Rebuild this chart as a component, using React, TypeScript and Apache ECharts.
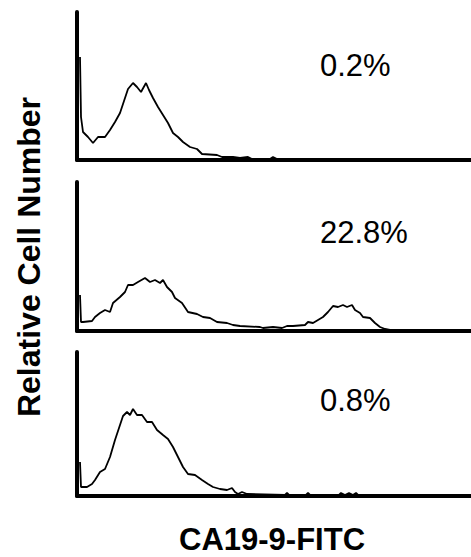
import React, { useEffect, useRef } from "react";
import * as echarts from "echarts";

// Histogram data (channel, relative cell count)
const panel1Channels = [3, 4, 6, 11, 16, 21, 28, 33, 38, 43, 48, 51, 56, 60, 64, 69, 72, 76, 81, 86, 91, 96, 101, 106, 113, 120, 125, 140, 145, 156, 163, 171, 175, 193, 196, 200, 394];
const panel1Counts = [103, 43, 28, 23, 17, 23, 23, 30, 38, 47, 62, 71, 77, 73, 68, 77, 70, 62, 53, 45, 37, 27, 23, 18, 13, 11, 6, 5, 3, 3, 2, 3, 1, 1, 3, 1, 1];

const panel2Channels = [3, 4, 6, 15, 18, 23, 28, 33, 36, 43, 48, 51, 56, 61, 68, 73, 78, 83, 86, 90, 95, 98, 105, 111, 120, 126, 133, 140, 150, 156, 163, 183, 186, 196, 205, 210, 216, 228, 231, 236, 241, 246, 251, 256, 261, 266, 270, 275, 278, 283, 286, 293, 298, 303, 308, 313, 394];
const panel2Counts = [36, 9, 9, 10, 14, 18, 21, 19, 28, 34, 39, 46, 46, 49, 53, 49, 51, 48, 51, 44, 39, 33, 28, 19, 17, 14, 13, 9, 8, 6, 5, 4, 3, 4, 3, 5, 5, 6, 9, 8, 11, 14, 19, 25, 24, 26, 24, 26, 21, 18, 14, 13, 8, 4, 2, 1, 0];

const panel3Channels = [3, 4, 10, 15, 18, 23, 28, 33, 38, 43, 46, 50, 53, 56, 60, 65, 70, 75, 80, 86, 91, 96, 101, 106, 111, 118, 125, 131, 136, 143, 150, 155, 158, 161, 165, 170, 208, 210, 212, 229, 231, 233, 262, 264, 268, 272, 276, 279, 281, 394];
const panel3Counts = [34, 9, 9, 12, 16, 24, 27, 39, 56, 71, 80, 84, 81, 87, 81, 81, 74, 74, 66, 61, 57, 49, 39, 29, 22, 21, 16, 12, 9, 7, 6, 8, 4, 2, 4, 2, 1, 3, 1, 1, 3, 1, 1, 3, 1, 3, 1, 3, 1, 1];

const percentLabels = ["0.2%", "22.8%", "0.8%"];
const xAxisTitle = "CA19-9-FITC";
const yAxisTitle = "Relative Cell Number";

const FONT = '"Liberation Sans", Arial, Helvetica, sans-serif';

export default function App() {
  const ref = useRef<HTMLDivElement>(null);

  useEffect(() => {
    if (!ref.current) return;
    const chart = echarts.init(ref.current, undefined, { renderer: "svg" });

    const tops = [12, 182, 352];
    const heights = [148, 149, 144];
    const textY = [65, 232, 400];
    const channels = [panel1Channels, panel2Channels, panel3Channels];
    const counts = [panel1Counts, panel2Counts, panel3Counts];

    const axisLine = { show: true, lineStyle: { color: "#000", width: 4 } };

    const option: any = {
      animation: false,
      backgroundColor: "#fff",
      grid: tops.map((t, i) => ({ left: 77, right: 0, top: t, height: heights[i] })),
      xAxis: tops.map((_, i) => ({
        type: "value",
        gridIndex: i,
        min: 0,
        max: 394,
        axisLine: { ...axisLine, onZero: false },
        axisTick: { show: false },
        axisLabel: { show: false },
        splitLine: { show: false },
      })),
      yAxis: tops.map((_, i) => ({
        type: "value",
        gridIndex: i,
        min: 0,
        max: heights[i],
        axisLine,
        axisTick: { show: false },
        axisLabel: { show: false },
        splitLine: { show: false },
      })),
      series: tops.map((_, i) => ({
        type: "line",
        xAxisIndex: i,
        yAxisIndex: i,
        symbol: "none",
        lineStyle: { color: "#000", width: 1.8 },
        data: channels[i].map((c, j) => [c, counts[i][j]]),
      })),
      graphic: [
        ...percentLabels.map((label, i) => ({
          type: "text",
          x: 320,
          y: textY[i],
          style: {
            text: label,
            fill: "#000",
            font: `31px ${FONT}`,
            textAlign: "left",
            textVerticalAlign: "middle",
          },
        })),
        {
          type: "text",
          x: 272,
          y: 539,
          style: {
            text: xAxisTitle,
            fill: "#000",
            font: `bold 31px ${FONT}`,
            textAlign: "center",
            textVerticalAlign: "middle",
          },
        },
        {
          type: "text",
          x: 29,
          y: 257,
          rotation: Math.PI / 2,
          style: {
            text: yAxisTitle,
            fill: "#000",
            font: `bold 32px ${FONT}`,
            textAlign: "center",
            textVerticalAlign: "middle",
          },
        },
      ],
    };

    chart.setOption(option);
    return () => chart.dispose();
  }, []);

  return (
    <div
      ref={ref}
      style={{ position: "fixed", left: 0, top: 0, width: 471, height: 557, background: "#fff" }}
    />
  );
}
